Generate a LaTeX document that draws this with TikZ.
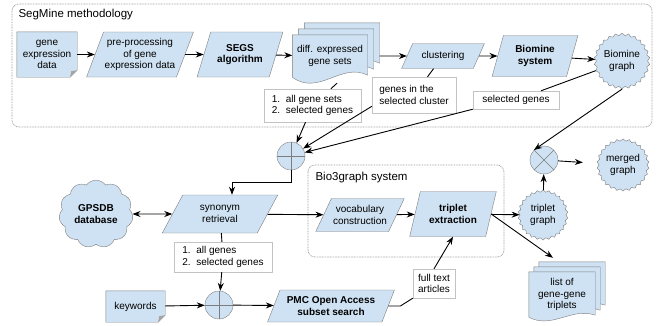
\documentclass[tikz,border=0pt]{standalone}
\usepackage{fontspec}
\setmainfont{Liberation Sans}
\usetikzlibrary{arrows.meta,calc,positioning,shapes.geometric,shapes.symbols,backgrounds}

\definecolor{boxblue}{RGB}{207,226,243}
\definecolor{edgegray}{RGB}{125,125,125}
\definecolor{labgray}{RGB}{195,195,195}

% folded-corner sheet round a node
\newcommand{\notesheet}[1]{%
  \draw[shp] (#1.north west) -- (#1.north east) -- ([yshift=7pt]#1.south east)
    -- ([xshift=-7pt]#1.south east) -- (#1.south west) -- cycle;
  \fill[edgegray!70] ([yshift=7pt]#1.south east) -- ([xshift=-7pt]#1.south east)
    -- ([xshift=-6pt,yshift=6pt]#1.south east) -- cycle;
}
% sheet with wavy bottom: node, x offset, y offset, wave depth
\newcommand{\wavesheet}[4]{%
  \coordinate (wl) at ([shift={(#2,#3)}]#1.south west);
  \coordinate (wr) at ([shift={(#2,#3+2)}]#1.south east);
  \draw[shp] ([shift={(#2,#3)}]#1.north west) -- ([shift={(#2,#3)}]#1.north east) -- (wr)
    .. controls ($(wr)!0.35!(wl)+(0,0.7*#4)$) and ($(wr)!0.65!(wl)+(0,-#4)$) .. (wl) -- cycle;
}

\begin{document}
\begin{tikzpicture}[x=1pt,y=1pt,
  txt/.style={font=\fontsize{10}{11.7}\selectfont},
  bold/.style={font=\fontsize{10}{11.7}\selectfont\bfseries},
  proc/.style={txt,trapezium,trapezium left angle=62,trapezium right angle=118,
    trapezium stretches=true,draw=edgegray,fill=boxblue,align=center,inner sep=1pt},
  doc/.style={txt,align=center,inner sep=0pt},
  lab/.style={txt,draw=labgray,fill=white,align=left,inner sep=0pt},
  burst/.style={txt,star,star points=26,star point ratio=1.09,draw=edgegray,fill=boxblue,
    align=center,inner sep=0pt},
  junc/.style={circle,draw=edgegray,fill=boxblue,minimum size=28pt,inner sep=0pt},
  sumnode/.style={junc,path picture={\draw[edgegray] (path picture bounding box.north) -- (path picture bounding box.south)
    (path picture bounding box.west) -- (path picture bounding box.east);}},
  mixnode/.style={junc,path picture={\draw[edgegray] (path picture bounding box.north west) -- (path picture bounding box.south east)
    (path picture bounding box.south west) -- (path picture bounding box.north east);}},
  frame/.style={draw=gray!80,dash pattern=on 0.8pt off 0.8pt,line width=0.7pt,rounded corners=7pt},
  shp/.style={draw=edgegray,fill=boxblue},
  ttl/.style={font=\fontsize{11.5}{13}\selectfont,anchor=west},
  ln/.style={line width=0.9pt},
  ar/.style={-{Stealth[length=8pt,width=6pt]},line width=0.9pt}]
\useasboundingbox (0,0) rectangle (657,325);

% SegMine part
\node[ttl] (segtitle) at (15,310) {SegMine methodology};
\node[doc,minimum width=60pt,minimum height=45pt] (gexp) at (47,270.5) {gene\\expression\\data};
\node[proc,minimum width=107pt,minimum height=45pt,trapezium left angle=64,trapezium right angle=116] (prep) at (140,270.5) {pre-processing\\of gene\\expression data};
\node[proc,bold,minimum width=86pt,minimum height=45pt,trapezium left angle=64,trapezium right angle=116] (segs) at (240,270.5) {SEGS\\algorithm};
\node[doc,minimum width=75pt,minimum height=42pt] (diffexp) at (330,269) {diff. expressed\\gene sets};
\node[proc,minimum width=83pt,minimum height=25pt,trapezium left angle=54,trapezium right angle=126] (clust) at (443,269) {clustering};
\node[proc,bold,minimum width=86pt,minimum height=41pt,trapezium left angle=72,trapezium right angle=108] (biosys) at (535,269) {Biomine\\system};
\node[burst,minimum size=55pt] (biograph) at (622,264) {Biomine\\graph};

\node[lab,minimum width=97pt,minimum height=33pt] (sets) at (312.5,219.5) {1.\ \ all gene sets\\2.\ \ selected genes};
\node[lab,minimum width=84pt,minimum height=36pt] (clgenes) at (414,230) {genes in the\\selected cluster};
\node[lab,minimum width=86pt,minimum height=18pt] (selgenes) at (516,225) {selected genes};

\node[sumnode] (plus) at (291,169) {};
\node[mixnode] (mix) at (544,165) {};
\node[burst,minimum size=52pt] (merged) at (623,160) {merged\\graph};

% Bio3graph part
\node[ttl] (b3title) at (312,147) {Bio3graph system};
\node[txt,bold,cloud,cloud puffs=11,cloud puff arc=110,draw=edgegray,fill=boxblue,align=center,
  minimum width=74pt,minimum height=58pt,inner sep=0pt] (gpsdb) at (96,111) {GPSDB\\database};
\node[proc,minimum width=116pt,minimum height=38pt,trapezium left angle=59,trapezium right angle=121] (syn) at (220,111) {synonym\\retrieval};
\node[proc,minimum width=89pt,minimum height=33pt,trapezium left angle=54,trapezium right angle=126] (voc) at (360,110) {vocabulary\\construction};
\node[proc,bold,minimum width=87pt,minimum height=45pt,trapezium left angle=69,trapezium right angle=111] (trip) at (453,111) {triplet\\extraction};
\node[burst,minimum size=50pt] (tgraph) at (543,110) {triplet\\graph};
\node[doc,minimum width=66pt,minimum height=45pt] (list) at (562,30.5) {list of\\gene-gene\\triplets};

\node[lab,minimum width=98pt,minimum height=30pt] (genes) at (223,68) {1.\ \ all genes\\2.\ \ selected genes};
\node[sumnode] (plus2) at (219,20) {};
\node[doc,minimum width=59pt,minimum height=31pt] (kw) at (135.5,18.5) {keywords};
\node[proc,bold,minimum width=127pt,minimum height=32pt] (pmc) at (331,19) {PMC Open Access\\subset search};
\node[lab,align=center,minimum width=42pt,minimum height=29pt] (ftxt) at (434,41.5) {full text\\articles};

\begin{scope}[on background layer]
  \draw[frame] (12,321) rectangle (652,198);
  \draw[frame] (308,160) rectangle (504,68);
  \notesheet{gexp}
  \notesheet{kw}
  \wavesheet{diffexp}{12}{12}{20}
  \wavesheet{diffexp}{6}{6}{20}
  \wavesheet{diffexp}{0}{0}{20}
  \wavesheet{list}{10}{10}{13}
  \wavesheet{list}{5}{5}{13}
  \wavesheet{list}{0}{0}{13}
\end{scope}

% connectors
\draw[ar] (gexp) -- (prep);
\draw[ar] (prep) -- (segs);
\draw[ar] (segs) -- (diffexp);
\draw[ar] ([xshift=12pt]diffexp.east) -- (clust);
\draw[ar] (clust) -- (biosys);
\draw[ar] (biosys) -- (biograph);
\draw[ln] ([xshift=7pt,yshift=-6pt]diffexp.south) -- (sets);
\draw[ar] ([xshift=-7pt]sets.south) -- (plus);
\draw[ln] (clust) -- (clgenes);
\draw[ar] (clgenes.195) -- (plus);
\draw[ln] (biograph) -- (selgenes);
\draw[ar] (selgenes.south west) -- (plus);
\draw[ar] (biograph.south) -- (mix.north west);
\draw[ar] (plus.south) -- ++(0,-12) -| ([xshift=12pt]syn.north);
\draw[{Stealth[length=8pt,width=6pt]}-{Stealth[length=8pt,width=6pt]},ln] (gpsdb) -- (syn);
\draw[ar] (syn) -- (voc);
\draw[ar] (voc) -- (trip);
\draw[ar] (trip) -- (tgraph);
\draw[ar] (trip.east) -- ([xshift=-9pt,yshift=14pt]list.north);
\draw[ar] (tgraph) -- (mix);
\draw[ar,shorten >=15pt] (mix) -- (merged);
\draw[ln] (syn) -- (genes);
\draw[ar] (genes) -- (plus2);
\draw[ar] (kw) -- (plus2);
\draw[ar] (plus2) -- (pmc);
\draw[ln] (pmc.east) -- ++(12,0) -- (ftxt.south west);
\draw[ar] (ftxt.north) -- (trip.south);
\end{tikzpicture}
\end{document}
